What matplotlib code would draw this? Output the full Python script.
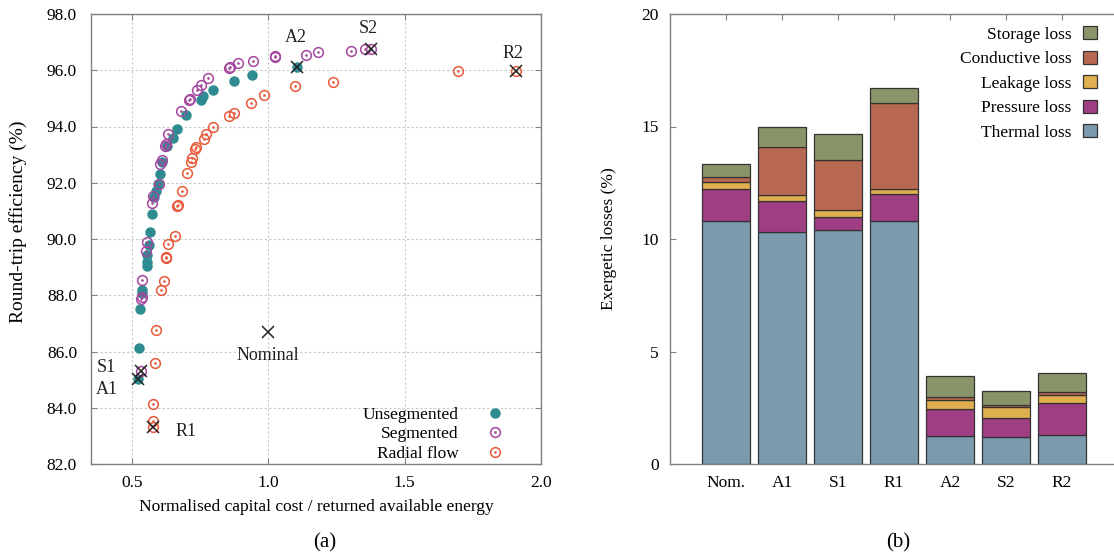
import matplotlib
matplotlib.use("Agg")
import matplotlib.pyplot as plt
from matplotlib.patches import Patch
from matplotlib.legend_handler import HandlerTuple
import numpy as np

plt.rcParams['font.family'] = ['Liberation Serif', 'DejaVu Serif']
plt.rcParams['font.size'] = 12.5

# ---------------- Panel (a) data ----------------
unseg_x = [0.873, 0.940, 1.104, 0.796, 0.760, 0.752, 0.697, 0.666, 0.649, 0.627,
           0.611, 0.603, 0.597, 0.588, 0.581, 0.572, 0.567, 0.562, 0.557, 0.555,
           0.554, 0.538, 0.537, 0.531, 0.526, 0.524]
unseg_y = [95.62, 95.83, 96.11, 95.30, 95.07, 94.96, 94.40, 93.91, 93.60, 93.31,
           92.74, 92.32, 91.96, 91.71, 91.49, 90.90, 90.26, 89.79, 89.43, 89.19,
           89.04, 88.19, 88.07, 87.50, 86.12, 85.02]

seg_x = [1.375, 1.355, 1.302, 1.183, 1.139, 1.026, 1.023, 0.943, 0.889, 0.861,
         0.857, 0.779, 0.754, 0.740, 0.714, 0.708, 0.680, 0.633, 0.626, 0.622,
         0.609, 0.604, 0.598, 0.579, 0.573, 0.556, 0.550, 0.538, 0.537, 0.534,
         0.534]
seg_y = [96.77, 96.76, 96.70, 96.65, 96.56, 96.47, 96.50, 96.33, 96.26, 96.13,
         96.09, 95.74, 95.49, 95.31, 94.99, 94.93, 94.54, 93.75, 93.39, 93.31,
         92.80, 92.65, 91.97, 91.52, 91.28, 89.88, 89.57, 88.54, 87.95, 87.86,
         85.31]

rad_x = [1.907, 1.696, 1.238, 1.097, 0.983, 0.935, 0.875, 0.857, 0.796, 0.773,
         0.763, 0.736, 0.733, 0.720, 0.716, 0.702, 0.682, 0.670, 0.667, 0.659,
         0.631, 0.626, 0.624, 0.616, 0.608, 0.589, 0.586, 0.578, 0.579, 0.578]
rad_y = [95.98, 95.96, 95.58, 95.45, 95.11, 94.85, 94.48, 94.36, 93.98, 93.73,
         93.57, 93.27, 93.19, 92.88, 92.75, 92.36, 91.69, 91.22, 91.17, 90.12,
         89.82, 89.35, 89.33, 88.49, 88.17, 86.75, 85.60, 84.14, 83.52, 83.30]

sel_names = ['A1', 'S1', 'R1', 'A2', 'S2', 'R2', 'Nominal']
sel_x = [0.524, 0.534, 0.578, 1.104, 1.375, 1.907, 1.000]
sel_y = [85.02, 85.31, 83.30, 96.11, 96.77, 95.98, 86.69]

# ---------------- Panel (b) data ----------------
configs = ['Nom.', 'A1', 'S1', 'R1', 'A2', 'S2', 'R2']
thermal = [10.80, 10.33, 10.40, 10.80, 1.23, 1.19, 1.28]
pressure = [1.43, 1.38, 0.60, 1.22, 1.20, 0.84, 1.44]
leakage = [0.29, 0.25, 0.31, 0.22, 0.40, 0.49, 0.34]
conductive = [0.22, 2.11, 2.22, 3.81, 0.15, 0.12, 0.12]
storage = [0.60, 0.93, 1.14, 0.66, 0.92, 0.59, 0.86]

c_teal = '#2e8b91'
c_purple = '#a4479e'
c_orange = '#e8593a'
c_thermal = '#7b9aad'
c_pressure = '#a03e84'
c_leak = '#e0b04f'
c_cond = '#b86850'
c_store = '#8a946a'
spine_c = '#808080'

W, H = 1114, 556
fig = plt.figure(figsize=(W / 100, H / 100), dpi=100)

def fx(p):
    return p / W

def fy(p):
    return 1 - p / H

# ---------- Left panel ----------
axa = fig.add_axes([fx(91), fy(464), fx(541) - fx(91), fy(14) - fy(464)])
axa.set_xlim(0.35, 2.0)
axa.set_ylim(82, 98)
axa.set_xticks([0.5, 1.0, 1.5, 2.0])
axa.set_yticks(np.arange(82, 98.1, 2))
axa.set_yticklabels([f'{v:.1f}' for v in np.arange(82, 98.1, 2)])
axa.grid(True, color='#c8c8c8', linestyle=(0, (2, 2)), linewidth=0.8)
axa.set_axisbelow(True)
axa.tick_params(direction='in', top=True, right=True, length=4, color=spine_c,
                labelsize=12.5)
axa.tick_params(axis='y', pad=10)
axa.tick_params(axis='x', pad=8)
for s in axa.spines.values():
    s.set_color(spine_c)
    s.set_linewidth(1.0)

ms_open = 7
h_u, = axa.plot(unseg_x, unseg_y, 'o', color=c_teal, ms=6.5, mec=c_teal, ls='none', zorder=3)
h_s1, = axa.plot(seg_x, seg_y, 'o', mfc='none', mec=c_purple, mew=1.1, ms=ms_open, ls='none', zorder=4)
h_s2, = axa.plot(seg_x, seg_y, '.', color=c_purple, ms=1.8, ls='none', zorder=4)
h_r1, = axa.plot(rad_x, rad_y, 'o', mfc='none', mec=c_orange, mew=1.1, ms=ms_open, ls='none', zorder=4)
h_r2, = axa.plot(rad_x, rad_y, '.', color=c_orange, ms=1.8, ls='none', zorder=4)
axa.plot(sel_x, sel_y, 'x', color='#222222', ms=9, mew=1.1, ls='none', zorder=5)

label_off = {'A1': (-0.116, -0.37), 'S1': (-0.129, 0.13), 'R1': (0.12, -0.14),
             'A2': (-0.004, 1.07), 'S2': (-0.007, 0.73), 'R2': (-0.008, 0.63),
             'Nominal': (0.0, -0.82)}
for n, x, y in zip(sel_names, sel_x, sel_y):
    dx, dy = label_off[n]
    axa.text(x + dx, y + dy, n, ha='center', va='center', fontsize=13, color='#222222')

axa.set_xlabel('Normalised capital cost / returned available energy', fontsize=12.5, labelpad=6)
axa.set_ylabel('Round-trip efficiency (%)', fontsize=14)
axa.yaxis.set_label_coords(-0.142, 0.538)

leg = axa.legend([h_u, (h_s1, h_s2), (h_r1, h_r2)],
                 ['Unsegmented', 'Segmented', 'Radial flow'],
                 handler_map={tuple: HandlerTuple(ndivide=1)},
                 loc='lower right', bbox_to_anchor=(0.94, -0.018),
                 frameon=False, markerfirst=False, handlelength=1.0,
                 labelspacing=0.18, handletextpad=1.6, fontsize=12.5, borderaxespad=0.2)
for t in leg.get_texts():
    t.set_ha('right')

fig.text(fx(325), fy(543), '(a)', ha='center', va='center', fontsize=15)

# ---------- Right panel ----------
axb = fig.add_axes([fx(670), fy(464), 1 - fx(670), fy(14) - fy(464)])
xpos = np.arange(1, len(configs) + 1)
bw = 0.86
ec = '#333333'
bottom = np.zeros(len(configs))
series = [(thermal, c_thermal, 'Thermal loss'), (pressure, c_pressure, 'Pressure loss'),
          (leakage, c_leak, 'Leakage loss'), (conductive, c_cond, 'Conductive loss'),
          (storage, c_store, 'Storage loss')]
handles = []
for vals, col, lab in series:
    axb.bar(xpos, vals, bw, bottom=bottom, color=col, edgecolor=ec, linewidth=0.9, zorder=2)
    bottom += np.array(vals)
    handles.append(Patch(facecolor=col, edgecolor=ec, linewidth=0.9, label=lab))

axb.set_xlim(0, (W - 670) / 56)
axb.set_ylim(0, 20)
axb.set_xticks(xpos)
axb.set_xticklabels(configs)
axb.set_yticks([0, 5, 10, 15, 20])
axb.tick_params(axis='both', direction='in', length=4, color=spine_c, labelsize=12.5, pad=8)
axb.tick_params(axis='x', top=True, bottom=False, pad=8)
axb.spines['right'].set_visible(False)
for s in ['left', 'top', 'bottom']:
    axb.spines[s].set_color(spine_c)
    axb.spines[s].set_linewidth(1.0)
axb.set_ylabel('Exergetic losses (%)', fontsize=12.5, labelpad=18)

leg2 = axb.legend(handles[::-1], [h.get_label() for h in handles[::-1]],
                  loc='upper right', bbox_to_anchor=(0.988, 1.0), frameon=False,
                  markerfirst=False, handlelength=0.8, handleheight=0.8,
                  labelspacing=0.45, handletextpad=0.65, fontsize=12.5, borderaxespad=0.3)
for t in leg2.get_texts():
    t.set_ha('right')

fig.text(fx(898), fy(543), '(b)', ha='center', va='center', fontsize=15)

fig.savefig('out.png', dpi=100)
